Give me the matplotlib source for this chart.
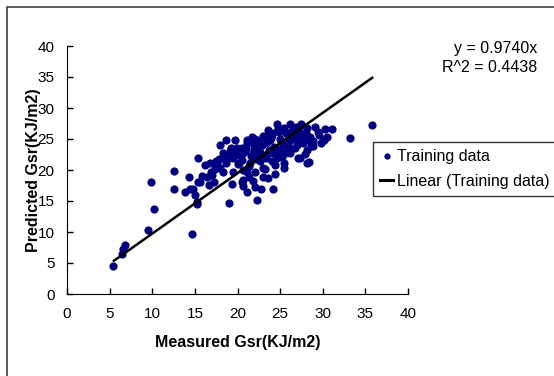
import numpy as np
import matplotlib
matplotlib.use("Agg")
import matplotlib.pyplot as plt
from matplotlib.patches import Rectangle
from matplotlib.lines import Line2D

plt.rcParams['font.family'] = ['Liberation Sans', 'DejaVu Sans']

# measured vs predicted Gsr
measured = [5.4, 6.4, 6.6, 6.8, 9.5, 9.9, 10.2, 12.5, 12.5, 13.8, 14.3, 14.4, 14.8,
            15.4, 15.4, 15.3, 14.7, 15.0, 15.6, 15.8, 16.6, 16.8, 17.0, 17.2, 17.6,
            17.9, 18.7, 19.7, 18.3, 19.1, 19.5, 18.7, 18.3, 19.5, 20.5, 20.7, 20.5,
            15.2, 19.0, 21.3, 21.1, 21.1, 21.7, 22.3, 22.6, 23.6, 23.8, 24.6, 25.4,
            26.2, 26.9, 27.5, 28.1, 27.1, 27.7, 26.6, 25.8, 25.0, 24.2, 23.4, 22.8,
            20.7, 21.5, 21.1, 22.1, 22.6, 23.0, 23.6, 24.2, 22.1, 21.1, 22.3, 24.4,
            25.4, 27.1, 28.1, 26.2, 20.7, 27.5, 29.1, 30.3, 31.1, 35.8, 33.2, 30.1,
            28.5, 28.9, 28.0, 27.7, 28.1, 28.6, 27.9, 28.4, 27.3, 16.2, 16.9, 17.5,
            18.0, 18.5, 19.2, 19.8, 20.2, 20.9, 21.6, 22.0, 22.4, 22.9, 23.3, 23.7,
            24.0, 24.5, 24.9, 25.3, 25.7, 26.0, 26.4, 26.8, 21.9, 22.6, 23.1, 23.9,
            24.3, 24.7, 25.1, 25.6, 26.1, 26.6, 20.4, 21.4, 22.2, 23.5, 24.8, 25.9,
            19.0, 19.9, 20.1, 21.8, 18.9, 17.4, 16.4, 23.2, 24.1, 25.2, 26.7, 27.4,
            29.4, 29.8, 28.8, 27.0, 30.5, 19.4, 20.6, 22.7, 24.4, 25.5,
            21.0, 21.5, 22.0, 22.5, 23.0, 23.5, 24.0, 24.5, 25.0, 25.5, 26.0, 26.5,
            27.0, 27.5, 28.0, 20.5, 21.8, 22.8, 23.8, 24.8, 25.8, 26.8, 19.6, 18.6,
            17.8, 23.0, 24.6, 26.3, 28.3, 29.6]
predicted = [4.5, 6.5, 7.2, 7.9, 10.3, 18.0, 13.7, 19.9, 16.9, 16.4, 18.8, 16.9, 17.0,
             21.9, 18.1, 14.5, 9.6, 16.0, 18.1, 19.0, 17.6, 21.1, 19.2, 18.1, 21.1,
             24.0, 24.8, 24.8, 22.7, 23.0, 21.9, 21.1, 19.7, 19.7, 21.6, 20.0, 18.1,
             14.9, 14.7, 18.9, 24.8, 24.3, 25.4, 23.8, 24.8, 26.5, 24.9, 27.5, 26.5,
             27.5, 27.0, 27.3, 26.7, 25.4, 24.8, 25.8, 23.8, 23.2, 22.7, 21.9, 22.2,
             22.7, 21.1, 19.7, 19.7, 21.4, 18.9, 18.7, 17.0, 17.2, 16.5, 15.2, 20.8,
             21.1, 21.9, 21.1, 22.7, 18.4, 27.5, 27.0, 26.6, 26.6, 27.3, 25.1, 24.8,
             25.4, 24.6, 25.9, 24.3, 23.2, 23.9, 22.6, 21.3, 21.9, 20.8, 19.6, 21.4,
             20.3, 22.0, 23.6, 22.4, 21.1, 23.0, 22.3, 23.9, 24.6, 24.0, 25.1, 23.2,
             25.7, 23.5, 26.1, 24.2, 25.9, 24.7, 26.3, 25.0, 23.4, 22.9, 24.4, 25.2,
             23.7, 26.8, 24.6, 22.8, 25.5, 26.2, 22.4, 20.6, 21.7, 22.6, 23.1, 24.1,
             21.9, 23.5, 20.9, 18.2, 22.6, 20.2, 18.9, 20.1, 21.5, 22.1, 23.6, 25.9,
             26.1, 24.3, 23.8, 24.0, 25.3, 17.8, 17.4, 16.9, 19.3, 20.4,
             23.5, 24.5, 25.0, 22.5, 25.5, 24.5, 26.0, 23.0, 25.0, 26.8, 25.2, 26.0,
             24.5, 26.0, 25.5, 23.5, 22.8, 24.0, 25.8, 26.5, 24.3, 25.8, 23.2, 22.3,
             21.8, 20.3, 21.9, 23.4, 24.9, 25.6]
slope = 0.9740
r2 = 0.4438
line_x = [5.5, 35.8]

fig = plt.figure(figsize=(5.54, 3.76), dpi=100)
# outer chart border (runs off the right and bottom of the picture)
fig.patches.append(Rectangle((7 / 554, -0.1), 1.2, 1 - 7 / 376 + 0.1, transform=fig.transFigure,
                             fill=False, edgecolor='#404040', linewidth=1.2))
ax = fig.add_axes([67 / 554, 1 - 294 / 376, 341 / 554, 248 / 376])

ax.scatter(measured, predicted, s=24, color='#000080', zorder=3)
ax.plot(line_x, [slope * v for v in line_x], color='black', linewidth=1.8, zorder=4)

ax.set_xlim(0, 40)
ax.set_ylim(0, 40)
ax.set_xticks(range(0, 41, 5))
ax.set_yticks(range(0, 41, 5))
ax.tick_params(direction='in', length=4, width=1, labelsize=11, pad=9)
ax.spines['top'].set_visible(False)
ax.spines['right'].set_visible(False)

fig.text(238 / 554, 1 - 342 / 376, 'Measured Gsr(KJ/m2)', ha='center', va='center',
         fontsize=11.5, fontweight='bold')
fig.text(34 / 554, 1 - 170 / 376, 'Predicted Gsr(KJ/m2)', ha='center', va='center',
         rotation=90, fontsize=11.5, fontweight='bold')

fig.text(537 / 554, 1 - 48 / 376, 'y = %.4fx' % slope, ha='right', va='center', fontsize=11.5)
fig.text(537 / 554, 1 - 68 / 376, 'R^2 = %.4f' % r2, ha='right', va='center', fontsize=11.5)

handles = [Line2D([], [], marker='o', color='#000080', linestyle='none', markersize=3.5),
           Line2D([], [], color='black', linewidth=2.2)]
leg = fig.legend(handles, ['Training data', 'Linear (Training data)'], loc='upper left',
                 bbox_to_anchor=(373 / 554, 1 - 142 / 376), fontsize=11.5, frameon=True,
                 fancybox=False, handlelength=0.8, handletextpad=0.25, borderpad=0.45,
                 labelspacing=0.6, borderaxespad=0)
leg.get_frame().set_edgecolor('black')
leg.get_frame().set_linewidth(1)

fig.savefig('out.png', dpi=100)
